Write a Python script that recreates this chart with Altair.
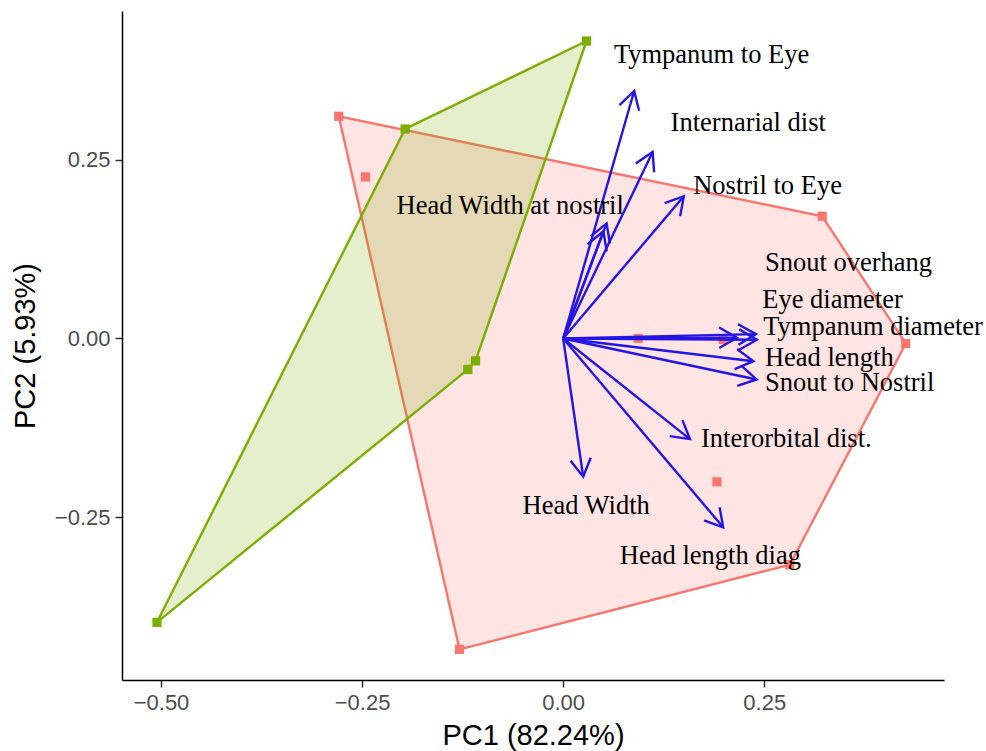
import math
import altair as alt
import pandas as pd

# ---- individuals (PC scores), two groups ----
red_x = [-0.279, -0.2458, -0.1289, 0.3221, 0.4259, 0.0933, 0.199, 0.1912, 0.2819]
red_y = [0.3109, 0.226, -0.435, 0.171, -0.007, 0.0, -0.0014, -0.2006, -0.3166]
green_x = [0.0291, -0.1965, -0.109, -0.1185, -0.505]
green_y = [0.4162, 0.2931, -0.0313, -0.0434, -0.3972]

# ---- variable loadings (arrow tips) ----
arrow_x = [0.0883, 0.1112, 0.150, 0.054, 0.050, 0.2397, 0.2409, 0.216, 0.2365, 0.2406, 0.1576, 0.0249, 0.199]
arrow_y = [0.3463, 0.261, 0.199, 0.161, 0.150, 0.0061, -0.0017, 0.0011, -0.0318, -0.0574, -0.1408, -0.1935, -0.2643]

# ---- variable labels ----
label_text = ["Tympanum to Eye", "Internarial dist", "Nostril to Eye", "Head Width at nostril",
              "Snout overhang", "Eye diameter", "Tympanum diameter", "Head length",
              "Snout to Nostril", "Interorbital dist.", "Head Width", "Head length diag"]
label_x = [0.0631, 0.1336, 0.1617, -0.2072, 0.2509, 0.2475, 0.2488, 0.2509, 0.2509, 0.1713, -0.0505, 0.0705]
label_y = [0.3850, 0.2903, 0.2018, 0.1738, 0.0945, 0.0420, 0.0046, -0.0387, -0.0737, -0.1524, -0.2453, -0.3157]

x_ticks = [-0.5, -0.25, 0.0, 0.25]
y_ticks = [-0.25, 0.0, 0.25]
x_domain = [-0.5485, 0.4735]
y_domain = [-0.4779, 0.4582]

W, H = 822, 669
RED, GREEN, BLUE = "#F8766D", "#7CAE00", "#2415E6"


def convex_hull(xs, ys):
    pts = sorted(set(zip(xs, ys)))

    def cross(o, a, b):
        return (a[0] - o[0]) * (b[1] - o[1]) - (a[1] - o[1]) * (b[0] - o[0])

    lower, upper = [], []
    for p in pts:
        while len(lower) >= 2 and cross(lower[-2], lower[-1], p) <= 0:
            lower.pop()
        lower.append(p)
    for p in reversed(pts):
        while len(upper) >= 2 and cross(upper[-2], upper[-1], p) <= 0:
            upper.pop()
        upper.append(p)
    return lower[:-1] + upper[:-1]


def hull_df(xs, ys):
    h = convex_hull(xs, ys)
    return pd.DataFrame({"x": [p[0] for p in h], "y": [p[1] for p in h], "order": list(range(len(h)))})


red_df = pd.DataFrame({"x": red_x, "y": red_y})
green_df = pd.DataFrame({"x": green_x, "y": green_y})

sx = W / (x_domain[1] - x_domain[0])
sy = H / (y_domain[1] - y_domain[0])
arr_df = pd.DataFrame({"x": arrow_x, "y": arrow_y})
arr_df["x0"] = 0.0
arr_df["y0"] = 0.0
arr_df["ang"] = [math.degrees(math.atan2(a * sx, b * sy)) % 360 for a, b in zip(arrow_x, arrow_y)]

lab_df = pd.DataFrame({"label": label_text, "x": label_x, "y": label_y})

xscale = alt.Scale(domain=x_domain, nice=False, zero=False)
yscale = alt.Scale(domain=y_domain, nice=False, zero=False)

common_axis = dict(
    format=".2f", labelFont="Liberation Sans", labelFontSize=22, labelColor="#4D4D4D",
    tickColor="#333333", tickSize=7, tickWidth=1.5, domainColor="black", domainWidth=1.5,
    grid=False, labelPadding=5, labelFlush=False, labelOverlap=False,
    titleFont="Liberation Sans", titleFontSize=29, titleColor="black", titleFontWeight="normal",
    titleAlign="center", titleBaseline="alphabetic",
)
xaxis = alt.Axis(values=x_ticks, titleX=W / 2, titleY=64, **common_axis)
yaxis = alt.Axis(values=y_ticks, titleAngle=270, titleX=-88, titleY=H / 2, **common_axis)

XT = "PC1 (82.24%)"
YT = "PC2 (5.93%)"


def X(field):
    return alt.X(field, type="quantitative", scale=xscale, axis=xaxis, title=XT)


def Y(field):
    return alt.Y(field, type="quantitative", scale=yscale, axis=yaxis, title=YT)


layers = []
for df, col in ((hull_df(red_x, red_y), RED), (hull_df(green_x, green_y), GREEN)):
    layers.append(
        alt.Chart(df).mark_line(interpolate="linear-closed", stroke=col, fill=col, fillOpacity=0.2,
                                strokeWidth=2.4)
        .encode(x=X("x"), y=Y("y"), order=alt.Order("order:Q"))
    )
for df, col in ((red_df, RED), (green_df, GREEN)):
    layers.append(
        alt.Chart(df).mark_square(size=85, color=col, opacity=1)
        .encode(x=X("x"), y=Y("y"))
    )

layers.append(
    alt.Chart(arr_df).mark_rule(color=BLUE, strokeWidth=2.4)
    .encode(x=X("x0"), y=Y("y0"), x2="x:Q", y2="y:Q")
)
layers.append(
    alt.Chart(arr_df).mark_point(shape="M-0.577,1L0,0L0.577,1", filled=False, size=1250,
                                 strokeWidth=2.4, color=BLUE, opacity=1)
    .encode(x=X("x"), y=Y("y"), angle=alt.Angle("ang:Q", scale=None))
)
layers.append(
    alt.Chart(lab_df).mark_text(font="Liberation Serif", fontSize=26.5, align="left",
                                baseline="alphabetic", color="black")
    .encode(x=X("x"), y=Y("y"), text="label:N")
)

chart = alt.layer(*layers).properties(
    width=W, height=H,
    padding={"left": 122, "top": 11, "right": 42, "bottom": 71},
    autosize=alt.AutoSizeParams(type="none"),
    background="white",
).configure_view(stroke=None)

chart.save("out.html", embed_options={"renderer": "svg", "actions": False})
